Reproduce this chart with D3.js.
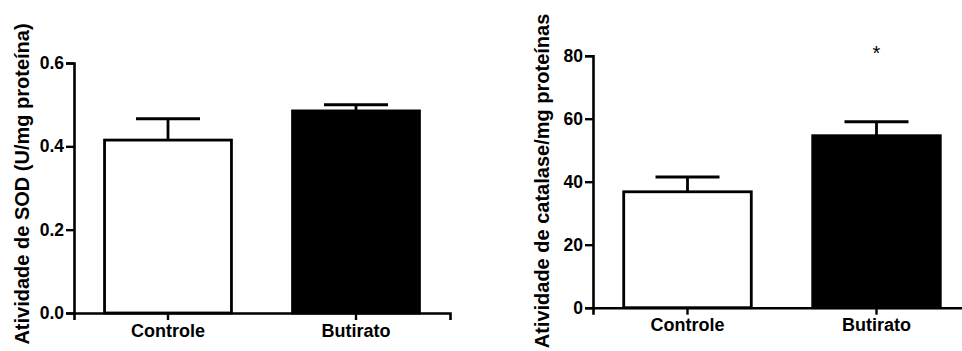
<!DOCTYPE html>
<html>
<head>
<meta charset="utf-8">
<script src="https://cdn.jsdelivr.net/npm/d3@7"></script>
<style>
  body { margin: 0; background: #fff; }
  svg { display: block; }
  text { font-family: "Liberation Sans", Arial, sans-serif; font-weight: bold; fill: #000; }
</style>
</head>
<body>
<div class="chart"></div>
<script>
// data
const groups = ["Controle", "Butirato"];
const fills = ["white", "black"];

const sodMean = [0.415, 0.485];
const sodErr = [0.051, 0.015];
const sodTicks = [0, 0.2, 0.4, 0.6];

const catMean = [36.8, 54.6];
const catErr = [4.7, 4.4];
const catSig = ["", "*"];
const catTicks = [0, 20, 40, 60, 80];

const width = 962, height = 351;

const svg = d3.select(".chart")
    .append("svg")
    .attr("width", width)
    .attr("height", height);

// one bar panel: x range, y range, domain, ticks, format, title
function BarPanel(opts) {
    const g = svg.append("g");

    const xScale = d3.scaleBand()
        .domain(groups)
        .range(opts.xRange)
        .paddingInner(0.325)
        .paddingOuter(0.1625);
    const yScale = d3.scaleLinear()
        .domain(opts.domain)
        .range(opts.yRange);

    const data = groups.map((k, i) => ({
        key: k, mean: opts.mean[i], err: opts.err[i], fill: fills[i], sig: opts.sig ? opts.sig[i] : ""
    }));

    // bars
    g.selectAll("rect.bar")
        .data(data)
        .join("rect")
        .attr("class", "bar")
        .attr("x", d => xScale(d.key))
        .attr("width", xScale.bandwidth())
        .attr("y", d => yScale(d.mean))
        .attr("height", d => yScale(0) - yScale(d.mean))
        .attr("fill", d => d.fill)
        .attr("stroke", "black")
        .attr("stroke-width", 2.8);

    // error bars (upper only)
    const cx = d => xScale(d.key) + xScale.bandwidth() / 2;
    g.selectAll("line.err")
        .data(data)
        .join("line")
        .attr("class", "err")
        .attr("x1", cx).attr("x2", cx)
        .attr("y1", d => yScale(d.mean))
        .attr("y2", d => yScale(d.mean + d.err))
        .attr("stroke", "black")
        .attr("stroke-width", 2.8);
    g.selectAll("line.cap")
        .data(data)
        .join("line")
        .attr("class", "cap")
        .attr("x1", d => cx(d) - 32).attr("x2", d => cx(d) + 32)
        .attr("y1", d => yScale(d.mean + d.err))
        .attr("y2", d => yScale(d.mean + d.err))
        .attr("stroke", "black")
        .attr("stroke-width", 3);

    // significance marks
    g.selectAll("text.sig")
        .data(data.filter(d => d.sig))
        .join("text")
        .attr("class", "sig")
        .attr("x", cx)
        .attr("y", d => yScale(d.mean + d.err) - 62)
        .attr("text-anchor", "middle")
        .style("font-weight", "normal")
        .style("font-size", "20px")
        .text(d => d.sig);

    // axes
    const xAxis = g.append("g")
        .attr("transform", `translate(0, ${yScale(0)})`)
        .call(d3.axisBottom(xScale).tickSizeOuter(0).tickSize(7).tickPadding(4));
    xAxis.selectAll("text").style("font-size", "18px");

    const yAxis = g.append("g")
        .attr("transform", `translate(${opts.xRange[0]}, 0)`)
        .call(d3.axisLeft(yScale).tickValues(opts.ticks).tickFormat(opts.format)
            .tickSizeOuter(0).tickSize(8).tickPadding(2));
    yAxis.selectAll("text").style("font-size", "17.5px");

    [xAxis, yAxis].forEach(a => {
        a.select(".domain").attr("stroke-width", 2.6);
        a.selectAll(".tick line").attr("stroke-width", 2.4);
    });

    // y title
    g.append("text")
        .attr("transform", `translate(${opts.titleX}, ${opts.titleY}) rotate(-90)`)
        .attr("text-anchor", "middle")
        .style("font-size", "20px")
        .text(opts.title);
}

BarPanel({
    xRange: [74, 450], yRange: [313, 63], domain: [0, 0.6],
    mean: sodMean, err: sodErr, ticks: sodTicks, format: d3.format(".1f"),
    title: "Atividade de SOD (U/mg proteína)", titleX: 29, titleY: 184
});

BarPanel({
    xRange: [593, 971], yRange: [307.7, 55.7], domain: [0, 80],
    mean: catMean, err: catErr, sig: catSig, ticks: catTicks, format: d3.format("d"),
    title: "Atividade de catalase/mg proteínas", titleX: 549, titleY: 181
});
</script>
</body>
</html>
